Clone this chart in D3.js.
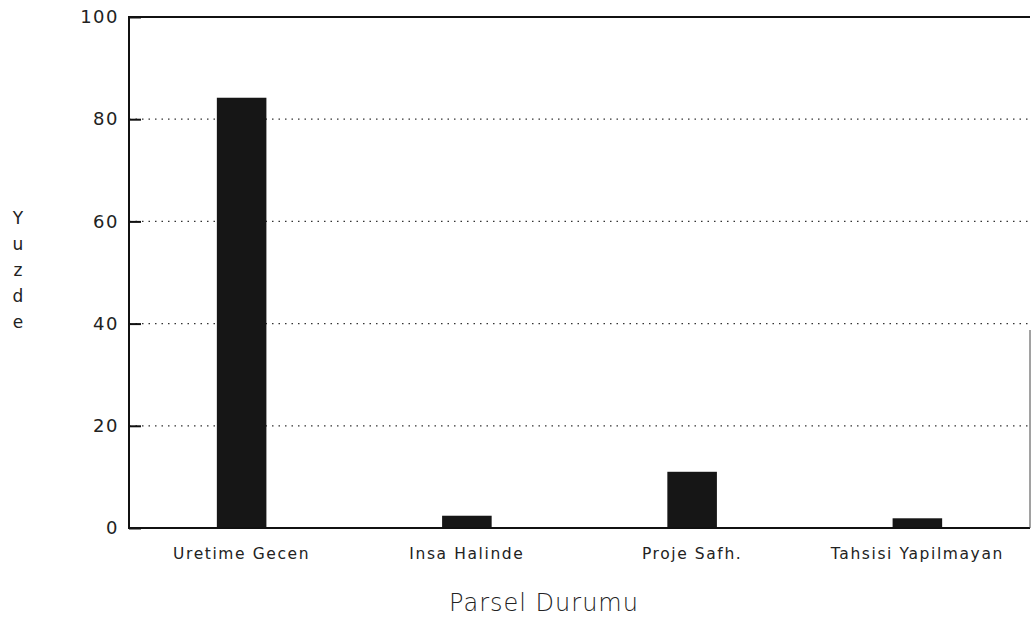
<!DOCTYPE html>
<html><head><meta charset="utf-8">
<script src="https://cdn.jsdelivr.net/npm/d3@7"></script>
<style>body{margin:0;background:#fff}svg{display:block}text{font-family:"DejaVu Sans",sans-serif;fill:#222}</style>
</head><body>
<svg id="c" width="1032" height="625"></svg>
<script>
const categories = ["Uretime Gecen", "Insa Halinde", "Proje Safh.", "Tahsisi Yapilmayan"];
const values = [84.2, 2.4, 11.0, 1.9];
const yTicks = [0, 20, 40, 60, 80, 100];
const xTitle = "Parsel Durumu";
const yTitle = "Yuzde";

const svg = d3.select("#c");
const L = 129, R = 1030, T = 17, B = 528;
const x = d3.scaleBand().domain(categories).range([L, R]).paddingInner(0.78).paddingOuter(0.39);
const y = d3.scaleLinear().domain([0, 100]).range([B, T]);

// gridlines
svg.append("g").selectAll("line").data(yTicks.filter(d => d > 0 && d < 100)).join("line")
  .attr("x1", L).attr("x2", R).attr("y1", d => y(d)).attr("y2", d => y(d))
  .attr("stroke", "#333").attr("stroke-width", 1.2).attr("stroke-dasharray", "1.5,5");

// bars
svg.append("g").selectAll("rect").data(values).join("rect")
  .attr("x", (d, i) => x(categories[i])).attr("width", x.bandwidth())
  .attr("y", d => y(d)).attr("height", d => B - y(d))
  .attr("fill", "#161616");

// frame
svg.append("path").attr("d", `M${R},${T}H${L}V${B}H${R}`).attr("fill", "none")
  .attr("stroke", "#111").attr("stroke-width", 2);
svg.append("line").attr("x1", R).attr("x2", R).attr("y1", 330).attr("y2", B)
  .attr("stroke", "#444").attr("stroke-width", 1);

// y axis
const yAxis = d3.axisLeft(y).tickValues(yTicks).tickSize(-12).tickPadding(22).tickFormat(d3.format("d"));
const ya = svg.append("g").attr("transform", `translate(${L},0)`).call(yAxis);
ya.select(".domain").remove();
ya.selectAll(".tick line").attr("stroke", "#111").attr("stroke-width", 2);
ya.selectAll(".tick text").style("font-size", "18px").style("font-family", "DejaVu Sans, sans-serif")
  .style("letter-spacing", "1.5px").attr("fill", "#222").attr("x", -10);

// x axis
const xAxis = d3.axisBottom(x).tickSize(0).tickPadding(20);
const xa = svg.append("g").attr("transform", `translate(0,${B})`).call(xAxis);
xa.select(".domain").remove();
xa.selectAll(".tick text").style("font-size", "15.5px").style("font-family", "DejaVu Sans, sans-serif")
  .style("letter-spacing", "1.6px").attr("fill", "#222");

// titles
svg.append("text").attr("x", 544).attr("y", 611).attr("text-anchor", "middle")
  .style("font-size", "24px").style("letter-spacing", "1px").style("font-weight", "300").text(xTitle);
svg.append("g").selectAll("text").data(yTitle.split("")).join("text")
  .attr("x", 18).attr("y", (d, i) => 224 + i * 26).attr("text-anchor", "middle")
  .style("font-size", "17px").text(d => d);
</script>
</body></html>
